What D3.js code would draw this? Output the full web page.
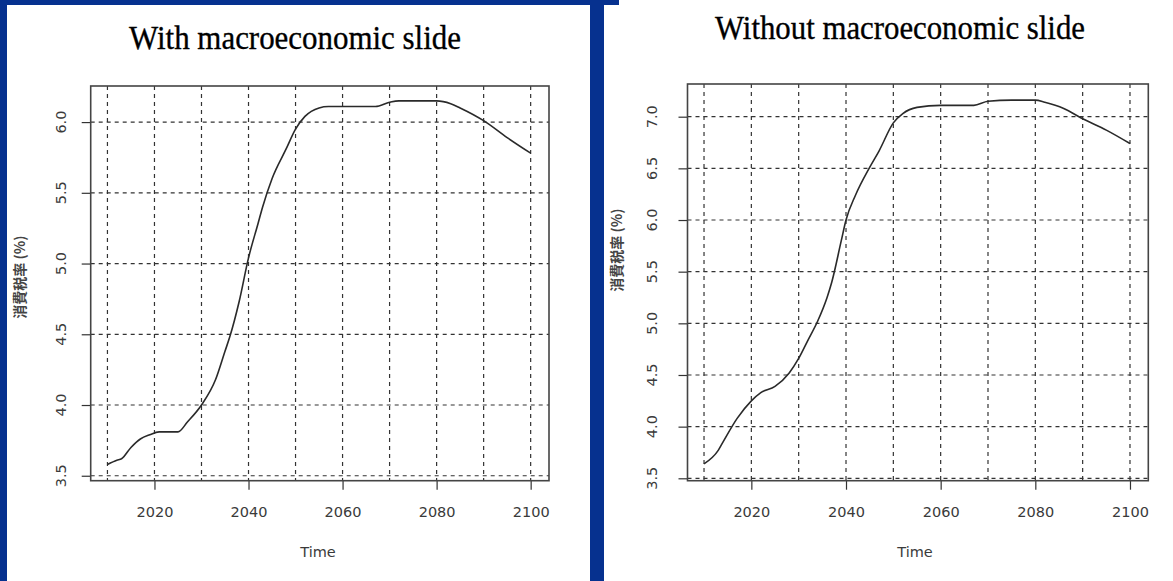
<!DOCTYPE html>
<html>
<head>
<meta charset="utf-8">
<script src="https://cdn.jsdelivr.net/npm/d3@7"></script>
<style>
  html, body { margin: 0; padding: 0; background: #fff; }
  svg { display: block; }
</style>
</head>
<body>
<svg id="chart" width="1173" height="581"></svg>
<script>
// Consumption tax rate path (%), two scenarios
const yearsWith = [2010, 2012, 2013, 2015, 2017, 2019, 2021, 2025, 2027, 2030, 2033, 2035, 2036, 2038, 2040, 2042, 2043, 2045, 2048, 2050, 2052, 2055, 2057, 2067, 2070, 2072, 2080, 2083, 2085, 2090, 2095, 2100];
const rateWith  = [3.58, 3.61, 3.62, 3.70, 3.76, 3.79, 3.81, 3.81, 3.88, 4.00, 4.18, 4.38, 4.48, 4.73, 5.04, 5.28, 5.40, 5.60, 5.81, 5.95, 6.04, 6.10, 6.11, 6.11, 6.14, 6.15, 6.15, 6.13, 6.10, 6.01, 5.89, 5.78];

const yearsWithout = [2010, 2013, 2014, 2017, 2020, 2022, 2025, 2028, 2030, 2032, 2034, 2036, 2037, 2039, 2040, 2042, 2045, 2047, 2050, 2052, 2055, 2060, 2067, 2070, 2075, 2080, 2082, 2086, 2090, 2095, 2100];
const rateWithout  = [3.64, 3.77, 3.85, 4.08, 4.25, 4.33, 4.39, 4.52, 4.66, 4.84, 5.02, 5.25, 5.40, 5.80, 6.00, 6.24, 6.51, 6.67, 6.94, 7.03, 7.09, 7.11, 7.11, 7.15, 7.16, 7.16, 7.14, 7.08, 6.98, 6.87, 6.74];

const xTickLabels = [2020, 2040, 2060, 2080, 2100];
const xGridYears = [2010, 2020, 2030, 2040, 2050, 2060, 2070, 2080, 2090, 2100];
const yTicksWith = [3.5, 4.0, 4.5, 5.0, 5.5, 6.0];
const yTicksWithout = [3.5, 4.0, 4.5, 5.0, 5.5, 6.0, 6.5, 7.0];

const titles = ["With macroeconomic slide", "Without macroeconomic slide"];
const xAxisTitle = "Time";
const yAxisTitle = "消費税率 (%)";

const svg = d3.select("#chart");

// Navy frame around the first panel
const navy = "#06318f";
svg.append("rect").attr("x", 0).attr("y", 0).attr("width", 619).attr("height", 5).attr("fill", navy);
svg.append("rect").attr("x", 0).attr("y", 0).attr("width", 7).attr("height", 581).attr("fill", navy);
svg.append("rect").attr("x", 590).attr("y", 0).attr("width", 14).attr("height", 581).attr("fill", navy);

const panels = [
  {
    title: titles[0], titleX: 295, titleY: 49, titleW: 332,
    years: yearsWith, values: rateWith, yTicks: yTicksWith,
    box: { x0: 90.7, x1: 549, y0: 86, y1: 480.7 },
    xDomain: [2006.44, 2103.9], yDomain: [3.465, 6.255],
    yLabelX: 61, yTitleX: 20, yTitleY: 277, timeX: 318
  },
  {
    title: titles[1], titleX: 900, titleY: 39, titleW: 370,
    years: yearsWithout, values: rateWithout, yTicks: yTicksWithout,
    box: { x0: 687.5, x1: 1148.3, y0: 84, y1: 480.7 },
    xDomain: [2006.51, 2103.87], yDomain: [3.4768, 7.3165],
    yLabelX: 651.5, yTitleX: 617, yTitleY: 250, timeX: 915
  }
];

const ink = "#2a2a2a";
const labelFont = "'DejaVu Sans', sans-serif";
const labelColor = "#3a3a3a";

panels.forEach(p => {
  const g = svg.append("g");
  const x = d3.scaleLinear().domain(p.xDomain).range([p.box.x0, p.box.x1]);
  const y = d3.scaleLinear().domain(p.yDomain).range([p.box.y1, p.box.y0]);

  // Title
  g.append("text")
    .attr("x", p.titleX).attr("y", p.titleY)
    .attr("text-anchor", "middle")
    .attr("font-family", "'Liberation Serif', 'Times New Roman', serif")
    .attr("font-size", 34)
    .attr("textLength", p.titleW)
    .attr("lengthAdjust", "spacingAndGlyphs")
    .attr("fill", "#000")
    .attr("stroke", "#000")
    .attr("stroke-width", 0.35)
    .text(p.title);

  // Dashed grid
  const grid = g.append("g")
    .attr("stroke", "#333")
    .attr("stroke-width", 1.2)
    .attr("stroke-dasharray", "4,4");
  grid.selectAll("line.v").data(xGridYears).join("line")
    .attr("class", "v")
    .attr("x1", d => x(d)).attr("x2", d => x(d))
    .attr("y1", p.box.y0).attr("y2", p.box.y1);
  grid.selectAll("line.h").data(p.yTicks).join("line")
    .attr("class", "h")
    .attr("x1", p.box.x0).attr("x2", p.box.x1)
    .attr("y1", d => y(d)).attr("y2", d => y(d));

  // Series line
  const line = d3.line().x(d => x(d[0])).y(d => y(d[1])).curve(d3.curveMonotoneX);
  g.append("path")
    .datum(p.years.map((yr, i) => [yr, p.values[i]]))
    .attr("fill", "none")
    .attr("stroke", ink)
    .attr("stroke-width", 1.6)
    .attr("stroke-linejoin", "round")
    .attr("d", line);

  // Bottom axis
  const xAxis = g.append("g")
    .attr("transform", `translate(0,${p.box.y1})`)
    .call(d3.axisBottom(x).tickValues(xTickLabels).tickFormat(d3.format("d")).tickSize(9).tickPadding(17));
  xAxis.select(".domain").remove();
  xAxis.selectAll(".tick line").attr("stroke", "#333").attr("stroke-width", 1.2);
  xAxis.selectAll(".tick text")
    .attr("font-family", labelFont).attr("font-size", 14.5).attr("fill", labelColor);

  // Left axis
  const yAxis = g.append("g")
    .attr("transform", `translate(${p.box.x0},0)`)
    .call(d3.axisLeft(y).tickValues(p.yTicks).tickFormat(d3.format(".1f")).tickSize(9));
  yAxis.select(".domain").remove();
  yAxis.selectAll(".tick line").attr("stroke", "#333").attr("stroke-width", 1.2);
  yAxis.selectAll(".tick text").remove();
  g.append("g").selectAll("text").data(p.yTicks).join("text")
    .attr("transform", d => `translate(${p.yLabelX},${y(d)}) rotate(-90)`)
    .attr("text-anchor", "middle")
    .attr("dy", "0.36em")
    .attr("font-family", labelFont).attr("font-size", 14.5).attr("fill", labelColor)
    .text(d => d3.format(".1f")(d));

  // Plot frame
  g.append("rect")
    .attr("x", p.box.x0).attr("y", p.box.y0)
    .attr("width", p.box.x1 - p.box.x0).attr("height", p.box.y1 - p.box.y0)
    .attr("fill", "none").attr("stroke", "#444").attr("stroke-width", 1.6);

  // Axis titles
  g.append("text")
    .attr("x", p.timeX).attr("y", 557)
    .attr("text-anchor", "middle")
    .attr("font-family", labelFont).attr("font-size", 14.5).attr("fill", labelColor)
    .text(xAxisTitle);
  g.append("text")
    .attr("transform", `translate(${p.yTitleX},${p.yTitleY}) rotate(-90)`)
    .attr("text-anchor", "middle")
    .attr("dy", "0.36em")
    .attr("font-family", "'Noto Sans CJK JP', sans-serif")
    .attr("font-weight", "bold")
    .attr("font-size", 14)
    .attr("fill", "#444")
    .text(yAxisTitle);
});
</script>
</body>
</html>
